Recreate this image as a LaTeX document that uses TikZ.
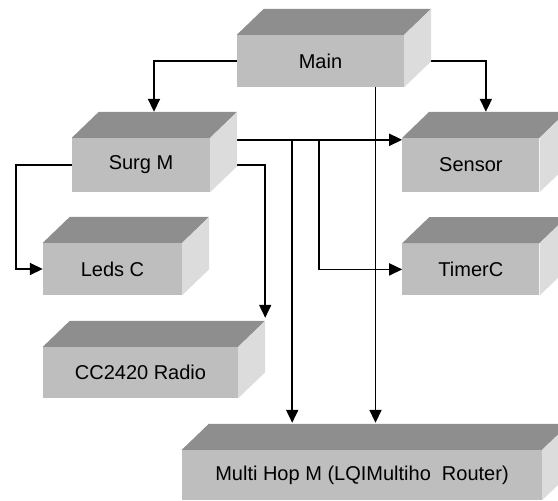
\documentclass[tikz,border=0pt]{standalone}
\usepackage{fontspec}
\setmainfont{Liberation Sans}
\usetikzlibrary{calc,arrows.meta,positioning,backgrounds}

\definecolor{frontgray}{HTML}{BEBEBE}
\definecolor{topgray}{HTML}{8E8E8E}
\definecolor{sidegray}{HTML}{DCDCDC}

\tikzset{
  slab/.style={fill=frontgray,minimum height=52pt,inner sep=0pt,
    font=\fontsize{20}{22}\selectfont},
  link/.style={line width=1.8pt,-{Triangle[width=12pt,length=13pt]}},
}

\begin{document}
\begin{tikzpicture}[x=1pt,y=-1pt]
\useasboundingbox (0,0) rectangle (558,501);
\node[slab,minimum width=167pt] (main) at (320.5,61) {Main};
\node[slab,minimum width=138pt,minimum height=54pt] (surg) at (141,165) {Surg M};
\node[slab,minimum width=137pt,minimum height=54pt] (sensor) [right=192pt of surg] {Sensor};
\node[slab,minimum width=137pt] (timer) [below=51pt of sensor] {TimerC};
\node[slab,minimum width=139pt] (leds) at (112.5,269) {Leds C};
\node[slab,minimum width=195pt,minimum height=51pt] (radio) at (140.5,372.5) {CC2420 Radio};
\node[slab,minimum width=360pt,minimum height=50pt] (multi) at (362,475) {Multi Hop M (LQIMultiho\ \ Router)};
% top and side faces
\foreach \n in {main,surg,sensor,timer,leds,radio,multi}{
  \fill[topgray] (\n.north west) -- ++(27,-26) -- ($(\n.north east)+(27,-26)$) -- (\n.north east) -- cycle;
  \fill[sidegray] (\n.north east) -- ++(27,-26) -- ($(\n.south east)+(27,-26)$) -- (\n.south east) -- cycle;
}
\coordinate (surgtop) at ($(surg.north)+(13,-26)$);
\coordinate (sensortop) at ($(sensor.north)+(15,-26)$);
\coordinate (radiotop) at ($(radio.north east)+(27,-29)$);
\coordinate (multitop) at ($(multi.north)+(0,-27)$);
\coordinate (bus) at ($(surg.north east)+(0,2)$);
\coordinate (tap1) at ($(bus)+(82,0)$);
\coordinate (tap2) at ($(bus)+(109,0)$);
\coordinate (down) at ($(main.south)+(55,0)$);
\begin{pgfonlayer}{background}
\draw[link] (main.west) -| (surgtop);
\draw[link] (main.east) -| (sensortop);
\draw[link] (down) -- (down |- multitop);
\draw[link] (bus) -- (bus -| sensor.west);
\draw[link] (tap1) -- (tap1 |- multitop);
\draw[link] (tap2) |- (timer.west);
\draw[link] (surg.west) -- ++(-56,0) |- (leds.west);
\draw[link] (surg.east) -| (radiotop);
\end{pgfonlayer}
\end{tikzpicture}
\end{document}
